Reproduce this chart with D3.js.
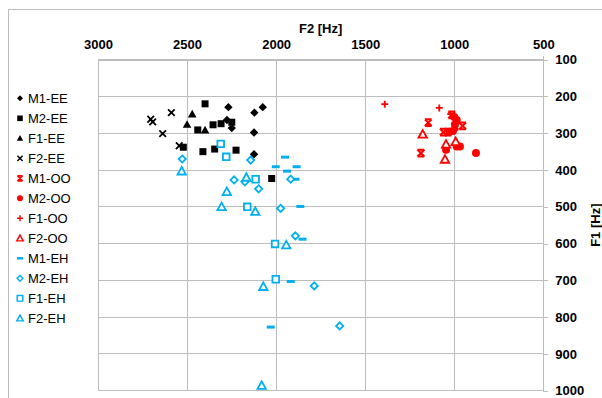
<!DOCTYPE html>
<html>
<head>
<meta charset="utf-8">
<script src="https://cdn.jsdelivr.net/npm/d3@7"></script>
<style>
  html, body { margin: 0; padding: 0; background: #fff; }
  svg { display: block; font-family: "Liberation Sans", Arial, sans-serif; }
</style>
</head>
<body>
<svg id="chart" width="602" height="398"></svg>
<script>
// Formant measurements: each point is [F2 (Hz), F1 (Hz)]
const M1_EE = [[2268,229],[2075,229],[2122,244],[2276,264],[2249,286],[2124,298],[2124,357]];
const M2_EE = [[2399,220],[2354,277],[2309,274],[2249,270],[2440,291],[2521,338],[2411,350],[2345,343],[2225,346],[2025,423]];
const F1_EE = [[2471,248],[2500,276],[2399,291]];
const F2_EE = [[2704,262],[2693,269],[2588,244],[2637,301],[2544,334]];
const M1_OO = [[1146,271],[1187,354],[1014,250],[953,280],[1061,297],[996,281],[1035,297]];
const M2_OO = [[878,354],[1046,345],[986,264],[996,277],[1028,296],[968,336],[986,336],[1007,294],[1000,256]];
const F1_OO = [[1390,221],[1084,231],[1020,248]];
const F2_OO = [[1177,303],[1046,330],[1052,371],[992,323]];
const M1_EH = [[1950,365],[2002,391],[1939,403],[1885,391],[1891,425],[1864,499],[1852,588],[1918,703],[2030,827]];
const M2_EH = [[2527,370],[2236,427],[2175,432],[2143,373],[2098,451],[1918,425],[1975,504],[1892,579],[1786,715],[1643,824]];
const F1_EH = [[2311,329],[2280,364],[2115,425],[2162,500],[2006,601],[2002,697]];
const F2_EH = [[2530,403],[2277,459],[2306,500],[2167,420],[2117,513],[1943,604],[2072,717],[2081,986]];

const f2Ticks = [3000, 2500, 2000, 1500, 1000, 500];
const f1Ticks = [100, 200, 300, 400, 500, 600, 700, 800, 900, 1000];

const BLACK = "#000000", RED = "#FF0000", BLUE = "#00B0F0";

// Marker shapes, drawn around (0,0) with half-size r
const shapes = {
  diamond: r => `M0,${-r}L${r},0L0,${r}L${-r},0Z`,
  square: r => `M${-r},${-r}H${r}V${r}H${-r}Z`,
  triangle: r => `M0,${-r}L${r},${r * 0.8}L${-r},${r * 0.8}Z`,
  cross: r => `M${-r},${-r}L${r},${r}M${r},${-r}L${-r},${r}`,
  star: r => `M${-r},${-r}L${r},${r}M${r},${-r}L${-r},${r}M${-r},${-r}H${r}M${-r},${r}H${r}`,
  plus: r => `M${-r},0H${r}M0,${-r}V${r}`,
  dash: r => `M${-r},0H${r}`,
  circle: r => `M${-r},0A${r},${r} 0 1,0 ${r},0A${r},${r} 0 1,0 ${-r},0Z`
};

const series = [
  { name: "M1-EE", data: M1_EE, shape: "diamond",  color: BLACK, filled: true,  r: 4.2, lr: 3 },
  { name: "M2-EE", data: M2_EE, shape: "square",   color: BLACK, filled: true,  r: 3.5, lr: 2.8 },
  { name: "F1-EE", data: F1_EE, shape: "triangle", color: BLACK, filled: true,  r: 4.3, lr: 3.2 },
  { name: "F2-EE", data: F2_EE, shape: "cross",    color: BLACK, filled: false, r: 3.3, lr: 2.6, sw: 1.8 },
  { name: "M1-OO", data: M1_OO, shape: "star",     color: RED,   filled: false, r: 3.4, lr: 2.6, sw: 2 },
  { name: "M2-OO", data: M2_OO, shape: "circle",   color: RED,   filled: true,  r: 4,   lr: 3 },
  { name: "F1-OO", data: F1_OO, shape: "plus",     color: RED,   filled: false, r: 3.5, lr: 3, sw: 1.8 },
  { name: "F2-OO", data: F2_OO, shape: "triangle", color: RED,   filled: false, r: 4.2, lr: 3.2, sw: 1.8, hollow: true },
  { name: "M1-EH", data: M1_EH, shape: "dash",     color: BLUE,  filled: false, r: 4,   lr: 3, sw: 3 },
  { name: "M2-EH", data: M2_EH, shape: "diamond",  color: BLUE,  filled: false, r: 3.6, lr: 2.9, sw: 1.8, hollow: true },
  { name: "F1-EH", data: F1_EH, shape: "square",   color: BLUE,  filled: false, r: 3.3, lr: 2.8, sw: 1.8, hollow: true },
  { name: "F2-EH", data: F2_EH, shape: "triangle", color: BLUE,  filled: false, r: 4.2, lr: 3.2, sw: 1.8, hollow: true }
];

const svg = d3.select("#chart");
const GRID = "#bdbdbd";

const plot = { left: 98, right: 543.3, top: 59.7, bottom: 390.7 };
const x = d3.scaleLinear().domain([3000, 500]).range([plot.left, plot.right]);
const y = d3.scaleLinear().domain([100, 1000]).range([plot.top, plot.bottom]);

// Chart area frame (only top and left edges fall inside the canvas)
svg.append("path")
  .attr("d", `M8.5,398V9.5H602`)
  .attr("fill", "none").attr("stroke", GRID).attr("stroke-width", 1);

// Gridlines
const grid = svg.append("g").attr("stroke", GRID).attr("stroke-width", 1).attr("shape-rendering", "crispEdges");
grid.selectAll("line.v").data(f2Ticks).join("line")
  .attr("x1", d => x(d)).attr("x2", d => x(d))
  .attr("y1", plot.top).attr("y2", plot.bottom);
grid.selectAll("line.h").data(f1Ticks).join("line")
  .attr("x1", plot.left).attr("x2", plot.right)
  .attr("y1", d => y(d)).attr("y2", d => y(d));

// Top axis (F2)
const xAxis = svg.append("g")
  .attr("transform", `translate(0,${plot.top})`)
  .call(d3.axisTop(x).tickValues(f2Ticks).tickSize(0).tickPadding(11).tickFormat(d3.format("d")));
xAxis.select(".domain").attr("stroke", GRID).attr("shape-rendering", "crispEdges");
xAxis.selectAll("text").attr("font-size", 13).attr("font-weight", "bold")
  .attr("fill", "#000").attr("font-family", "Liberation Sans, Arial, sans-serif");

// Right axis (F1)
const yAxis = svg.append("g")
  .attr("transform", `translate(${plot.right},0)`)
  .call(d3.axisRight(y).tickValues(f1Ticks).tickSize(5).tickSizeOuter(0).tickPadding(7).tickFormat(d3.format("d")));
yAxis.select(".domain").attr("stroke", GRID).attr("shape-rendering", "crispEdges");
yAxis.selectAll(".tick line").attr("stroke", GRID).attr("shape-rendering", "crispEdges");
yAxis.selectAll("text").attr("font-size", 13).attr("font-weight", "bold")
  .attr("fill", "#000").attr("font-family", "Liberation Sans, Arial, sans-serif");

// Small outer tick where the two axes meet
svg.append("line")
  .attr("x1", plot.right).attr("x2", plot.right)
  .attr("y1", plot.top - 4).attr("y2", plot.top)
  .attr("stroke", GRID).attr("shape-rendering", "crispEdges");

// Axis titles
svg.append("text")
  .attr("x", (plot.left + plot.right) / 2).attr("y", 33)
  .attr("text-anchor", "middle").attr("font-size", 13).attr("font-weight", "bold")
  .text("F2 [Hz]");
svg.append("text")
  .attr("transform", `translate(599.5,${(plot.top + plot.bottom) / 2}) rotate(-90)`)
  .attr("text-anchor", "middle").attr("font-size", 13).attr("font-weight", "bold")
  .text("F1 [Hz]");

function styleMarker(sel, s) {
  if (s.filled) {
    sel.attr("fill", s.color).attr("stroke", "none");
  } else if (s.hollow) {
    sel.attr("fill", "#fff").attr("stroke", s.color).attr("stroke-width", s.sw)
      .attr("stroke-linejoin", "miter");
  } else {
    sel.attr("fill", "none").attr("stroke", s.color).attr("stroke-width", s.sw);
  }
}

// Data markers
const marks = svg.append("g");
series.forEach(s => {
  const g = marks.append("g").attr("class", "series");
  g.selectAll("path").data(s.data).join("path")
    .attr("transform", d => `translate(${x(d[0])},${y(d[1])})`)
    .attr("d", shapes[s.shape](s.r))
    .call(styleMarker, s);
});

// Legend
const legend = svg.append("g");
const rows = legend.selectAll("g").data(series).join("g")
  .attr("transform", (d, i) => `translate(20,${98.3 + i * 20})`);
rows.each(function (s) {
  const row = d3.select(this);
  const lw = s.sw ? Math.max(1.3, s.sw * 0.8) : 0;
  row.append("path")
    .attr("d", shapes[s.shape](s.lr))
    .call(styleMarker, Object.assign({}, s, { sw: s.shape === "dash" ? 2.6 : lw }));
  row.append("text")
    .attr("x", 8).attr("y", 4.6)
    .attr("font-size", 13).attr("fill", "#000")
    .text(s.name);
});
</script>
</body>
</html>
